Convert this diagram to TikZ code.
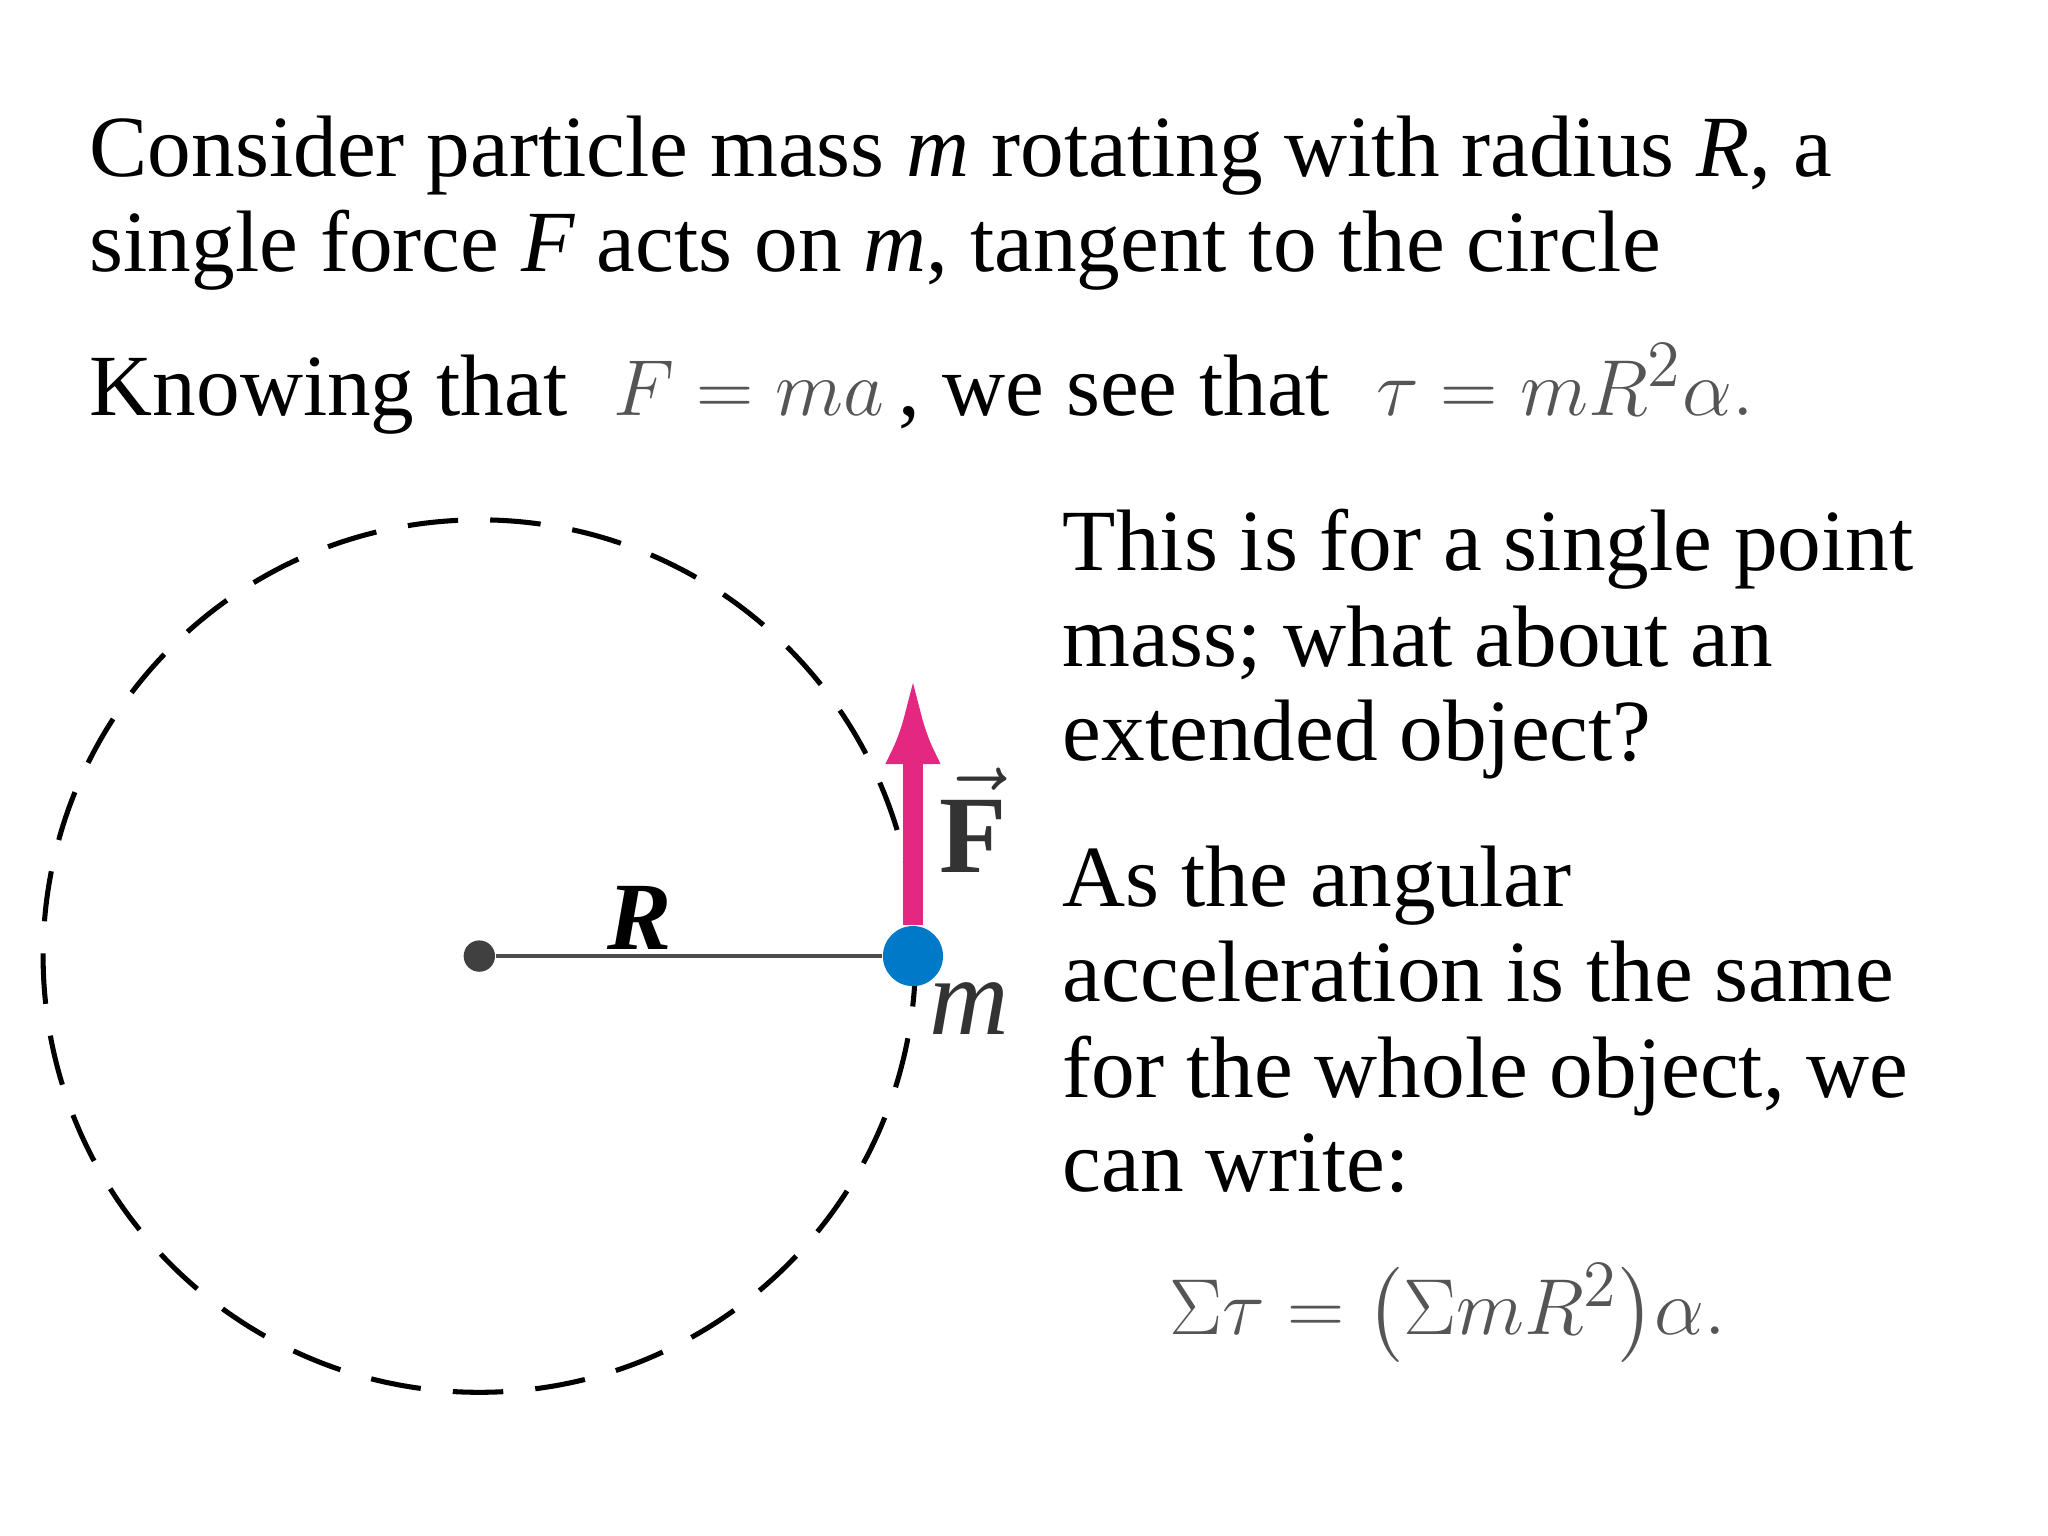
\documentclass[tikz,border=0pt]{standalone}
\usepackage{fontspec}
\setmainfont{Liberation Serif}
\usepackage{amsmath}
\usetikzlibrary{arrows.meta}
\definecolor{pink}{RGB}{228,40,130}
\definecolor{dotblue}{RGB}{0,122,200}
\definecolor{mgrey}{RGB}{85,85,85}
\begin{document}
\begin{tikzpicture}[x=0.01cm,y=-0.01cm,
  txt/.style={anchor=base west,inner sep=0,font=\fontsize{19}{23}\selectfont},
  eq/.style={anchor=base west,inner sep=0,text=mgrey,font=\fontsize{19}{23}\selectfont}]
\useasboundingbox (0,0) rectangle (1568,1176);
\node[txt] (l1) at (68,135) {Consider particle mass \textit{m} rotating with radius \textit{R}, a};
\node[txt] (l2) at (68,208) {single force \textit{F} acts on \textit{m}, tangent to the circle};
\node[txt] (l3) at (68,318) {Knowing that \;\textcolor{mgrey}{$F = ma$}\,, we see that \;\textcolor{mgrey}{$\tau = mR^2\alpha.$}};
\node[txt] (r1) at (813,437) {This is for a single point};
\node[txt] (r2) at (813,510) {mass; what about an};
\node[txt] (r3) at (813,582) {extended object?};
\node[txt] (r4) at (813,694) {As the angular};
\node[txt] (r5) at (813,767) {acceleration is the same};
\node[txt] (r6) at (813,840) {for the whole object, we};
\node[txt] (r7) at (813,912) {can write:};
\node[eq] (e) at (895,1022) {$\Sigma\tau = \bigl(\Sigma mR^2\bigr)\alpha.$};
% circle
\coordinate (c) at (367,732);
\draw[dash pattern=on 11pt off 7pt,line width=1.1pt] (c) circle[radius=334];
\node[circle,fill=black!75,inner sep=0,minimum size=0.24cm] (ctr) at (c) {};
\node[circle,fill=dotblue,inner sep=0,minimum size=0.46cm] (m) at (699,732) {};
\draw[black!70,line width=0.8pt] (ctr) -- (m);
\coordinate (tip) at (699,515);
\draw[pink,line width=4.2pt,-{Latex[length=0.7cm,width=0.42cm]}] (m.north) -- (tip);
\node[font=\fontsize{21}{25}\selectfont\bfseries\itshape] (R) at (490,703) {R};
\node[font=\fontsize{24}{28}\selectfont\bfseries,text=black!80] (F) at (745,628) {$\vec{\mathbf F}$};
\node[font=\fontsize{24}{28}\selectfont\itshape,text=black!80] (ml) at (742,772) {m};
\end{tikzpicture}
\end{document}
